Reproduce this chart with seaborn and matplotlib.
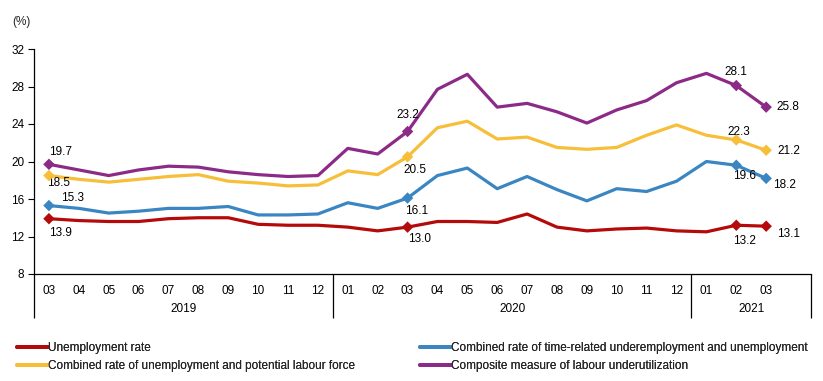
import numpy as np
import pandas as pd
import matplotlib
matplotlib.use("Agg")
import matplotlib.pyplot as plt
import matplotlib.transforms as mtransforms
import seaborn as sns

months = ['03', '04', '05', '06', '07', '08', '09', '10', '11', '12',
          '01', '02', '03', '04', '05', '06', '07', '08', '09', '10', '11', '12',
          '01', '02', '03']
years = ['2019', '2020', '2021']
year_counts = [10, 12, 3]

series_names = ['Unemployment rate',
                'Combined rate of time-related underemployment and unemployment',
                'Combined rate of unemployment and potential labour force',
                'Composite measure of labour underutilization']

unemployment = [13.9, 13.7, 13.6, 13.6, 13.9, 14.0, 14.0, 13.3, 13.2, 13.2,
                13.0, 12.6, 13.0, 13.6, 13.6, 13.5, 14.4, 13.0, 12.6, 12.8, 12.9, 12.6,
                12.5, 13.2, 13.1]
underemployment = [15.3, 15.0, 14.5, 14.7, 15.0, 15.0, 15.2, 14.3, 14.3, 14.4,
                   15.6, 15.0, 16.1, 18.5, 19.3, 17.1, 18.4, 17.0, 15.8, 17.1, 16.8, 17.9,
                   20.0, 19.6, 18.2]
potential = [18.5, 18.1, 17.8, 18.1, 18.4, 18.6, 17.9, 17.7, 17.4, 17.5,
             19.0, 18.6, 20.5, 23.6, 24.3, 22.4, 22.6, 21.5, 21.3, 21.5, 22.8, 23.9,
             22.8, 22.3, 21.2]
composite = [19.7, 19.1, 18.5, 19.1, 19.5, 19.4, 18.9, 18.6, 18.4, 18.5,
             21.4, 20.8, 23.2, 27.7, 29.3, 25.8, 26.2, 25.3, 24.1, 25.5, 26.5, 28.4,
             29.4, 28.1, 25.8]

labeled_idx = [0, 12, 23, 24]

colors = ['#B40A0A', '#3A86C2', '#F7BE3A', '#8C2A88']

# label offsets in pixels (dx, dy) per series, per labeled point
offsets = {
    0: [(12, -14), (12, -12), (8, -16), (22, -8)],
    1: [(24, 8), (9, -13), (8, -11), (18, -7)],
    2: [(10, -7), (7, -13), (3, 8), (23, -1)],
    3: [(12, 12), (0, 17), (0, 14), (22, 0)],
}

values = [unemployment, underemployment, potential, composite]
rows = []
for name, vals in zip(series_names, values):
    for i, v in enumerate(vals):
        rows.append({'pos': i, 'value': v, 'series': name})
df = pd.DataFrame(rows)

sns.set_style('white')
plt.rcParams['font.family'] = ['Liberation Sans', 'DejaVu Sans']

W, H = 823, 381
fig = plt.figure(figsize=(W / 100, H / 100), dpi=100)
ax = fig.add_axes([34 / W, (H - 274) / H, (811 - 34) / W, (274 - 49) / H])

palette = dict(zip(series_names, colors))
sns.lineplot(data=df, x='pos', y='value', hue='series', palette=palette,
             hue_order=series_names, linewidth=2.3, ax=ax, sort=False, legend=True)

sub = df[df['pos'].isin(labeled_idx)]
sns.scatterplot(data=sub, x='pos', y='value', hue='series', palette=palette,
                hue_order=series_names, marker='D', s=34, edgecolor='none',
                ax=ax, legend=False, zorder=5)

for si, (name, vals) in enumerate(zip(series_names, values)):
    for k, i in enumerate(labeled_idx):
        dx, dy = offsets[si][k]
        ax.annotate(f'{vals[i]:.1f}', (i, vals[i]), xytext=(dx, dy),
                    textcoords='offset pixels', ha='center', va='center',
                    fontsize=8.5, color='#000000')

ax.set_xlim(-0.5, 25.5)
ax.set_ylim(8, 32)
ax.set_yticks([8, 12, 16, 20, 24, 28, 32])
ax.set_xticks(range(len(months)))
ax.set_xticklabels(months)
ax.tick_params(axis='x', length=0, pad=8, labelsize=8.5, colors='#000000')
ax.tick_params(axis='y', left=True, length=4, width=0.8, pad=3, labelsize=8.5,
               colors='#000000', direction='out')
ax.set_xlabel('')
ax.set_ylabel('')
for s in ['top', 'right']:
    ax.spines[s].set_visible(False)
for s in ['left', 'bottom']:
    ax.spines[s].set_color('#000000')
    ax.spines[s].set_linewidth(0.9)

# group boxes below axis
trans = mtransforms.blended_transform_factory(ax.transData, ax.transAxes)
depth = -(318 - 274) / (274 - 49)
bounds = [-0.5]
for c in year_counts:
    bounds.append(bounds[-1] + c)
bounds[-1] = 25.5
for b in bounds:
    ax.plot([b, b], [0, depth], transform=trans, color='#000000', lw=0.9,
            clip_on=False, solid_capstyle='butt')
year_y = -(309 - 274) / (274 - 49)
for yr, a, b in zip(years, bounds[:-1], bounds[1:]):
    ax.text((a + b) / 2, year_y, yr, transform=trans, ha='center', va='center',
            fontsize=8.5, color='#000000')

fig.text(12 / W, 1 - 22 / H, '(%)', ha='left', va='center', fontsize=8.5)

handles, labels = ax.get_legend_handles_labels()
ax.get_legend().remove()
leg_font = {'family': ['Liberation Sans Narrow', 'Liberation Sans', 'DejaVu Sans'], 'size': 8.5}
for cols, xpix in [([0, 2], 17), ([1, 3], 420)]:
    lg = fig.legend([handles[i] for i in cols], [labels[i] for i in cols],
                    loc='upper left', bbox_to_anchor=(xpix / W, 1 - 342 / H),
                    frameon=False, handlelength=2.6, handletextpad=0.05,
                    labelspacing=0.5, borderaxespad=0, borderpad=0, prop=leg_font)
    for ln in lg.get_lines():
        ln.set_linewidth(2.8)
    fig.add_artist(lg)

fig.savefig('out.png', dpi=100)
